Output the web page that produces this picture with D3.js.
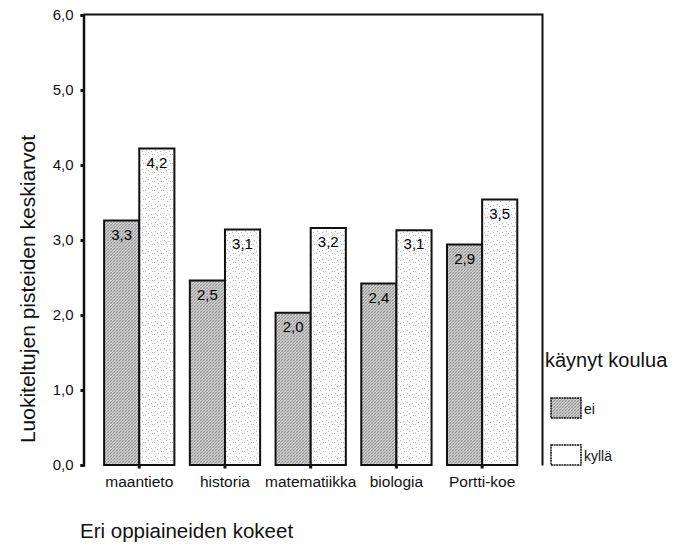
<!DOCTYPE html>
<html><head><meta charset="utf-8">
<script src="https://cdn.jsdelivr.net/npm/d3@7"></script>
<style>
body{margin:0;background:#fff}
svg{display:block}
text{font-family:"Liberation Sans",Arial,Helvetica,sans-serif;fill:#111}
</style>
</head><body>
<svg id="chart" width="678" height="544"></svg>
<script>
const categories = ["maantieto", "historia", "matematiikka", "biologia", "Portti-koe"];
const seriesNames = ["ei", "kyllä"];
const eiValues = [3.26, 2.46, 2.03, 2.42, 2.94];
const kyllaValues = [4.22, 3.14, 3.16, 3.13, 3.54];
const yTicks = [0, 1, 2, 3, 4, 5, 6];
const yTickLabels = ["0,0", "1,0", "2,0", "3,0", "4,0", "5,0", "6,0"];
const legendTitle = "käynyt koulua";
const xTitle = "Eri oppiaineiden kokeet";
const yTitle = "Luokiteltujen pisteiden keskiarvot";

const FONT = "Liberation Sans, Arial, sans-serif";
const svg = d3.select("#chart");
const defs = svg.append("defs");

// fine crosshatch pattern for "ei"
const p1 = defs.append("pattern").attr("id", "hatch").attr("patternUnits", "userSpaceOnUse")
  .attr("width", 3).attr("height", 3);
p1.append("rect").attr("width", 3).attr("height", 3).attr("fill", "#cdcdcd");
p1.append("path").attr("d", "M0,3 L3,0 M-1,1 L1,-1 M2,4 L4,2").attr("stroke", "#8e8e8e").attr("stroke-width", 0.8);
p1.append("path").attr("d", "M0,0 L3,3 M-1,2 L1,4 M2,-1 L4,1").attr("stroke", "#a4a4a4").attr("stroke-width", 0.6);

// stipple pattern for "kyllä"
const p2 = defs.append("pattern").attr("id", "stipple").attr("patternUnits", "userSpaceOnUse")
  .attr("width", 9).attr("height", 9);
p2.append("rect").attr("width", 9).attr("height", 9).attr("fill", "#fbfbfb");
[[1,1],[5,3],[2,6],[7,7],[8,1],[4,8]].forEach(([a,b]) =>
  p2.append("rect").attr("x", a).attr("y", b).attr("width", 1).attr("height", 1).attr("fill", "#bdbdbd"));

const y = d3.scaleLinear().domain([0, 6]).range([465, 15]);
const x = d3.scaleBand().domain(categories).range([96.4, 525]).paddingInner(0.18).paddingOuter(0.09);
const xs = d3.scaleBand().domain(seriesNames).range([0, x.bandwidth()]);
const fills = {"ei": "url(#hatch)", "kyllä": "url(#stipple)"};

const data = [];
categories.forEach((c, i) => {
  data.push({cat: c, s: "ei", v: eiValues[i]});
  data.push({cat: c, s: "kyllä", v: kyllaValues[i]});
});

// frame
const L = 83.5, R = 542.5, T = 14.5, B = 465.5;
svg.append("path").attr("d", `M${L},${T}H${R}V${B}`).attr("fill", "none").attr("stroke", "#111").attr("stroke-width", 2);

// bars
svg.append("g").selectAll("rect").data(data).join("rect")
  .attr("x", d => x(d.cat) + xs(d.s))
  .attr("y", d => y(d.v))
  .attr("width", xs.bandwidth())
  .attr("height", d => y(0) - y(d.v))
  .attr("fill", d => fills[d.s])
  .attr("stroke", "#111").attr("stroke-width", 2);

// value labels
svg.append("g").selectAll("text").data(data).join("text")
  .attr("x", d => x(d.cat) + xs(d.s) + xs.bandwidth() / 2)
  .attr("y", d => y(d.v) + 19)
  .attr("text-anchor", "middle")
  .attr("font-size", 15)
  .style("fill", "#000")
  .text(d => d3.format(".1f")(d.v).replace(".", ","));

// y axis
const yAxis = d3.axisLeft(y).tickValues(yTicks).tickSize(3).tickPadding(7)
  .tickFormat((d, i) => yTickLabels[i]);
const gy = svg.append("g").attr("transform", `translate(${L},0)`).call(yAxis);
gy.select(".domain").attr("stroke", "#111").attr("stroke-width", 2.5);
gy.selectAll(".tick line").attr("stroke", "#111").attr("stroke-width", 3);
gy.selectAll(".tick text").attr("font-size", 15).attr("font-family", FONT).attr("fill", "#111");

// x axis
const xAxis = d3.axisBottom(x).tickSize(3).tickPadding(7);
const gx = svg.append("g").attr("transform", `translate(0,${B})`).call(xAxis);
gx.select(".domain").remove();
gx.selectAll(".tick line").attr("stroke", "#111").attr("stroke-width", 3);
gx.selectAll(".tick text").attr("font-size", 15.5).attr("font-family", FONT).attr("fill", "#111");

// titles
svg.append("text").attr("x", 80).attr("y", 538).attr("font-size", 20.5).text(xTitle);
svg.append("text").attr("transform", "translate(35,289) rotate(-90)").attr("text-anchor", "middle")
  .attr("font-size", 21).text(yTitle);

// legend
svg.append("text").attr("x", 545).attr("y", 367).attr("font-size", 20).text(legendTitle);
const lg = svg.append("g").selectAll("g").data(seriesNames).join("g")
  .attr("transform", (d, i) => `translate(551,${398 + i * 47})`);
lg.append("rect").attr("width", 30).attr("height", 20)
  .attr("fill", d => d === "ei" ? "url(#hatch)" : "#fff")
  .attr("stroke", "#111").attr("stroke-width", 1.5).attr("stroke-dasharray", "2,0.6");
lg.append("text").attr("x", 33).attr("y", 16).attr("font-size", 14).text(d => d);
</script>
</body></html>
